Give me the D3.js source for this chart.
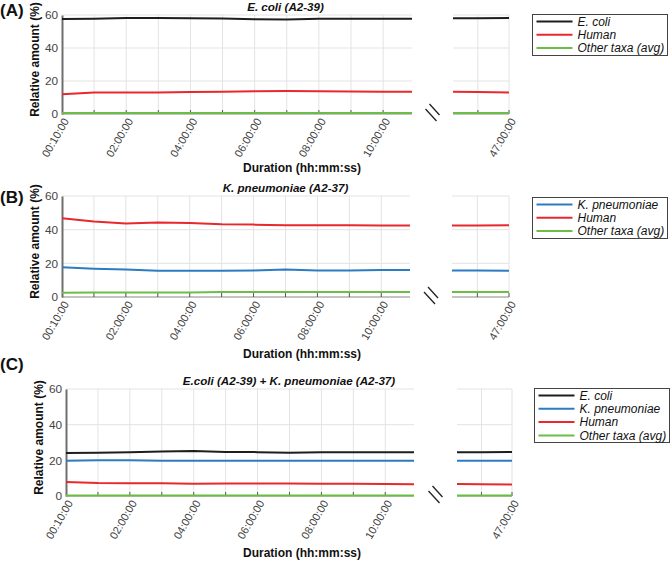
<!DOCTYPE html>
<html><head><meta charset="utf-8">
<script src="https://cdn.jsdelivr.net/npm/d3@7"></script>
<style>body{margin:0;background:#fff}svg{display:block;font-family:"Liberation Sans",Arial,sans-serif}</style>
</head><body><svg id="chart" width="670" height="561"></svg>
<script>
// ---------- data ----------
const mainHours = [0,1,2,3,4,5,6,7,8,9,10,11];          // index 0 = 00:10:00
const mainTickHours = [0,2,4,6,8,10];
const mainTickLabels = ["00:10:00","02:00:00","04:00:00","06:00:00","08:00:00","10:00:00"];
const tailHours = [45,46,47];
const tailTickHours = [47];
const tailTickLabels = ["47:00:00"];
const yTicks = [0,20,40,60];

// Panel A: E. coli (A2-39)
const ecoliA      = [57.6,57.8,58.2,58.2,58.0,57.9,57.4,57.3,57.7,57.8,57.8,57.8];
const ecoliA_tail = [58.0,58.1,58.2];
const humanA      = [11.9,13.1,13.1,13.1,13.3,13.5,13.8,13.9,13.8,13.6,13.5,13.5];
const humanA_tail = [13.5,13.4,13.1];
const otherA      = [0.6,0.6,0.6,0.6,0.6,0.6,0.6,0.6,0.6,0.6,0.6,0.6];
const otherA_tail = [0.6,0.6,0.6];

// Panel B: K. pneumoniae (A2-37)
const kpnB      = [17.6,16.8,16.4,15.6,15.6,15.6,15.8,16.4,15.8,15.8,16.1,16.1];
const kpnB_tail = [15.8,15.7,15.6];
const humanB      = [46.8,44.8,43.6,44.2,44.0,43.2,43.0,42.6,42.6,42.6,42.5,42.5];
const humanB_tail = [42.5,42.5,42.6];
const otherB      = [2.5,2.6,2.6,2.6,2.7,2.9,2.9,3.0,3.0,2.9,2.9,2.9];
const otherB_tail = [2.9,2.9,2.9];

// Panel C: E.coli (A2-39) + K. pneumoniae (A2-37)
const ecoliC      = [24.1,24.2,24.5,25.0,25.2,24.7,24.6,24.3,24.5,24.6,24.6,24.6];
const ecoliC_tail = [24.6,24.6,24.7];
const kpnC      = [19.8,20.1,20.0,19.8,19.8,19.8,19.8,19.8,19.8,19.8,19.8,19.8];
const kpnC_tail = [19.8,19.8,19.8];
const humanC      = [7.9,7.3,7.2,7.1,6.9,7.0,7.0,7.0,6.9,6.8,6.7,6.6];
const humanC_tail = [6.7,6.6,6.5];
const otherC      = [0.3,0.3,0.3,0.3,0.3,0.3,0.3,0.3,0.3,0.3,0.3,0.3];
const otherC_tail = [0.3,0.3,0.3];

// ---------- styles ----------
const COL = {ecoli:"#1e1e1e", kpn:"#2c7bc3", human:"#e8282c", other:"#6cbd45"};

const svg = d3.select("#chart");
let clipId = 0;

function drawPanel(L, title, letter, series, legend) {
  const g = svg.append("g");
  const y = d3.scaleLinear().domain([0,60]).range([L.yb, L.yt]);
  const xm = d3.scaleLinear().domain([0,10.9]).range([L.x0, L.x1]);
  const xt = d3.scaleLinear().domain([45.2,47]).range([L.s0, L.s1]);

  // gridlines, baseline, inward ticks
  [[xm,[1,2,3,4,5,6,7,8,9,10]],[xt,[46,47]]].forEach(([x,vs])=>{
    const r = x.range();
    g.append("g").selectAll("line").data(yTicks.slice(1)).join("line")
      .attr("x1",r[0]).attr("x2",r[1]).attr("y1",d=>y(d)).attr("y2",d=>y(d))
      .attr("stroke","#e3e3e3").attr("stroke-width",1);
    g.append("g").selectAll("line").data(vs).join("line")
      .attr("x1",d=>x(d)).attr("x2",d=>x(d)).attr("y1",L.yt).attr("y2",L.yb)
      .attr("stroke","#e3e3e3").attr("stroke-width",1);
    g.append("line").attr("x1",r[0]).attr("x2",r[1]).attr("y1",L.yb).attr("y2",L.yb)
      .attr("stroke","#888").attr("stroke-width",1);
    g.append("g").selectAll("line").data(vs).join("line")
      .attr("x1",d=>x(d)).attr("x2",d=>x(d)).attr("y1",L.yb).attr("y2",L.yb-4)
      .attr("stroke","#555").attr("stroke-width",1);
  });

  // y axis
  const ya = d3.axisLeft(y).tickValues(yTicks).tickSize(0).tickPadding(4);
  const yag = g.append("g").attr("transform",`translate(${L.x0},0)`).call(ya);
  yag.select(".domain").attr("stroke","#6e6e6e").attr("stroke-width",2);
  yag.selectAll("text").attr("font-size",11.8).attr("fill","#444").attr("font-family","Liberation Sans, Arial, sans-serif");

  // lines
  series.forEach((s)=>{
    const id = "clip"+(clipId++);
    [[xm,mainHours,s.main],[xt,tailHours,s.tail]].forEach(([x,hs,vals],k)=>{
      const cid = id+"_"+k;
      const r = x.range();
      g.append("clipPath").attr("id",cid).append("rect")
        .attr("x",r[0]).attr("y",L.yt-5).attr("width",r[1]-r[0]).attr("height",L.yb-L.yt+10);
      g.append("path").datum(hs.map((h,j)=>[h,vals[j]]))
        .attr("clip-path",`url(#${cid})`)
        .attr("fill","none").attr("stroke",s.color).attr("stroke-width",2)
        .attr("d",d3.line().x(d=>x(d[0])).y(d=>y(d[1])));
    });
  });

  // x tick labels (rotated)
  const lab = (x,vals,labels)=>{
    g.append("g").selectAll("text").data(vals).join("text")
      .attr("transform",d=>`translate(${x(d)+4},${L.yb+5}) rotate(-60)`)
      .attr("text-anchor","end").attr("dy","0.35em")
      .attr("font-size",11).attr("fill","#444")
      .text((d,i)=>labels[i]);
  };
  lab(xm,mainTickHours,mainTickLabels);
  lab(xt,tailTickHours,tailTickLabels);

  // axis break mark
  const c = (L.x1+L.s0)/2;
  const bk = g.append("g").attr("stroke","#222").attr("stroke-width",1.3);
  bk.append("line").attr("x1",c-3).attr("y1",L.yb-10).attr("x2",c+7).attr("y2",L.yb+1);
  bk.append("line").attr("x1",c-7).attr("y1",L.yb-5).attr("x2",c+4).attr("y2",L.yb+7);

  // title
  g.append("text").attr("x",(L.x0+L.s1)/2).attr("y",L.yt-4).attr("text-anchor","middle")
    .attr("font-size",11.6).attr("font-weight","bold").attr("font-style","italic").attr("fill","#111")
    .text(title);
  // panel letter
  g.append("text").attr("x",0).attr("y",L.ly).attr("font-size",17).attr("font-weight","bold").attr("fill","#111").text(letter);
  // axis labels
  g.append("text").attr("transform",`translate(${L.x0-23},${(L.yt+L.yb)/2-5}) rotate(-90)`)
    .attr("text-anchor","middle").attr("font-size",12).attr("font-weight","bold").attr("fill","#111")
    .text("Relative amount (%)");
  g.append("text").attr("x",302).attr("y",L.xly).attr("text-anchor","middle")
    .attr("font-size",12).attr("font-weight","bold").attr("fill","#111").text("Duration (hh:mm:ss)");

  // legend
  const lg = g.append("g");
  lg.append("rect").attr("x",L.lx).attr("y",L.lyTop).attr("width",135).attr("height",L.lh)
    .attr("fill","#fff").attr("stroke","#444").attr("stroke-width",1);
  legend.forEach((it,i)=>{
    const yy = L.lyTop + 7 + i*13.3;
    lg.append("line").attr("x1",L.lx+4).attr("x2",L.lx+40).attr("y1",yy).attr("y2",yy)
      .attr("stroke",it.color).attr("stroke-width",2);
    lg.append("text").attr("x",L.lx+45).attr("y",yy).attr("dy","0.35em")
      .attr("font-size",12).attr("font-style","italic").attr("fill","#111").text(it.name);
  });
}

drawPanel({x0:62,x1:412,s0:453,s1:509,yt:15,yb:114,ly:16,xly:172,lx:532.5,lyTop:14.5,lh:41},
  "E. coli (A2-39)","(A)",
  [{main:ecoliA,tail:ecoliA_tail,color:COL.ecoli},{main:humanA,tail:humanA_tail,color:COL.human},{main:otherA,tail:otherA_tail,color:COL.other}],
  [{name:" E. coli",color:COL.ecoli},{name:"Human",color:COL.human},{name:"Other taxa (avg)",color:COL.other}]);

drawPanel({x0:62,x1:410,s0:452,s1:509,yt:196,yb:297,ly:203,xly:358,lx:532.5,lyTop:197.5,lh:41},
  "K. pneumoniae (A2-37)","(B)",
  [{main:kpnB,tail:kpnB_tail,color:COL.kpn},{main:humanB,tail:humanB_tail,color:COL.human},{main:otherB,tail:otherB_tail,color:COL.other}],
  [{name:" K. pneumoniae",color:COL.kpn},{name:"Human",color:COL.human},{name:"Other taxa (avg)",color:COL.other}]);

drawPanel({x0:66,x1:414,s0:457,s1:512,yt:389,yb:496,ly:370,xly:557,lx:534.5,lyTop:388.5,lh:54},
  "E.coli (A2-39) + K. pneumoniae (A2-37)","(C)",
  [{main:ecoliC,tail:ecoliC_tail,color:COL.ecoli},{main:kpnC,tail:kpnC_tail,color:COL.kpn},{main:humanC,tail:humanC_tail,color:COL.human},{main:otherC,tail:otherC_tail,color:COL.other}],
  [{name:"E. coli",color:COL.ecoli},{name:"K. pneumoniae",color:COL.kpn},{name:"Human",color:COL.human},{name:"Other taxa (avg)",color:COL.other}]);
</script></body></html>
